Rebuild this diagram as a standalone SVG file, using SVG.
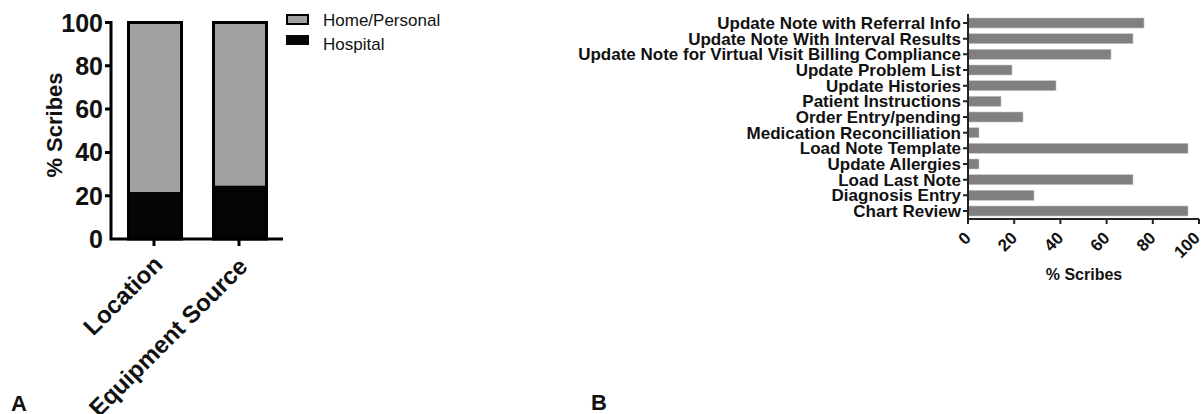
<svg xmlns="http://www.w3.org/2000/svg" width="1204" height="414" viewBox="0 0 1204 414">
<style>
.b{font-family:"Liberation Sans",Arial,sans-serif;font-weight:bold;fill:#111}
.r{font-family:"Liberation Sans",Arial,sans-serif;fill:#111}
.ya{font-size:25px;text-anchor:end}
.xa{font-size:24px;text-anchor:end}
.lb{font-size:17px;text-anchor:end}
.xb{font-size:17px;text-anchor:end}
.ax{stroke:#000;stroke-width:3;fill:none}
.axb{stroke:#222;stroke-width:2;fill:none}
.bar{fill:#808080;stroke:#c4c4c4;stroke-width:0.6}
</style>
<rect width="1204" height="414" fill="#fff"/>
<g id="panelA">
  <g id="barsA">
    <rect x="128.5" y="22.5" width="53" height="216.5" fill="#a1a1a4"/>
    <rect x="128.5" y="192" width="53" height="47" fill="#050505"/>
    <rect x="128.5" y="22.5" width="53" height="216.5" fill="none" stroke="#000" stroke-width="3"/>
    <rect x="213.5" y="22.5" width="53" height="216.5" fill="#a1a1a4"/>
    <rect x="213.5" y="185.7" width="53" height="53.3" fill="#050505"/>
    <rect x="213.5" y="22.5" width="53" height="216.5" fill="none" stroke="#000" stroke-width="3"/>
  </g>
  <g id="axesA">
    <path class="ax" d="M111,21 V239 H283 M105,22.5 H111 M105,65.8 H111 M105,109.1 H111 M105,152.4 H111 M105,195.7 H111 M154,239 V246 M239,239 V246"/>
    <text class="b ya" x="103" y="31.5">100</text>
    <text class="b ya" x="103" y="74.8">80</text>
    <text class="b ya" x="103" y="118.1">60</text>
    <text class="b ya" x="103" y="161.4">40</text>
    <text class="b ya" x="103" y="204.7">20</text>
    <text class="b ya" x="103" y="248">0</text>
    <text class="b" font-size="22" text-anchor="middle" transform="translate(62,125) rotate(-90)">% Scribes</text>
    <text class="b xa" transform="translate(164,266) rotate(-45)">Location</text>
    <text class="b xa" transform="translate(249,268) rotate(-45)">Equipment Source</text>
  </g>
  <g id="legendA">
    <rect x="287" y="15" width="21" height="9" fill="#a1a1a4" stroke="#000" stroke-width="2"/>
    <rect x="286" y="35" width="23" height="10" fill="#050505"/>
    <text class="r" font-size="17" x="323" y="26">Home/Personal</text>
    <text class="r" font-size="17" x="323" y="49.5">Hospital</text>
  </g>
  <text class="b" font-size="22" x="11" y="411">A</text>
</g>
<g id="panelB">
  <g id="barsB">
    <rect class="bar" x="968" y="18" width="176" height="10"/>
    <rect class="bar" x="968" y="33.7" width="165" height="10"/>
    <rect class="bar" x="968" y="49.3" width="143" height="10"/>
    <rect class="bar" x="968" y="65" width="44" height="10"/>
    <rect class="bar" x="968" y="80.7" width="88" height="10"/>
    <rect class="bar" x="968" y="96.3" width="33" height="10"/>
    <rect class="bar" x="968" y="112" width="55" height="10"/>
    <rect class="bar" x="968" y="127.7" width="11" height="10"/>
    <rect class="bar" x="968" y="143.3" width="220" height="10"/>
    <rect class="bar" x="968" y="159" width="11" height="10"/>
    <rect class="bar" x="968" y="174.7" width="165" height="10"/>
    <rect class="bar" x="968" y="190.3" width="66" height="10"/>
    <rect class="bar" x="968" y="206" width="220" height="10"/>
  </g>
  <g id="axesB">
    <path class="axb" d="M968,14 V219 H1199 M963,23 H968 M963,38.7 H968 M963,54.3 H968 M963,70 H968 M963,85.7 H968 M963,101.3 H968 M963,117 H968 M963,132.7 H968 M963,148.3 H968 M963,164 H968 M963,179.7 H968 M963,195.3 H968 M963,211 H968 M968,219 V224 M1014.2,219 V224 M1060.4,219 V224 M1106.6,219 V224 M1152.8,219 V224 M1199,219 V224"/>
    <text class="b lb" x="961" y="29">Update Note with Referral Info</text>
    <text class="b lb" x="961" y="44.7">Update Note With Interval Results</text>
    <text class="b lb" x="961" y="60.3">Update Note for Virtual Visit Billing Compliance</text>
    <text class="b lb" x="961" y="76">Update Problem List</text>
    <text class="b lb" x="961" y="91.7">Update Histories</text>
    <text class="b lb" x="961" y="107.3">Patient Instructions</text>
    <text class="b lb" x="961" y="123">Order Entry/pending</text>
    <text class="b lb" x="961" y="138.7">Medication Reconcilliation</text>
    <text class="b lb" x="961" y="154.3">Load Note Template</text>
    <text class="b lb" x="961" y="170">Update Allergies</text>
    <text class="b lb" x="961" y="185.7">Load Last Note</text>
    <text class="b lb" x="961" y="201.3">Diagnosis Entry</text>
    <text class="b lb" x="961" y="217">Chart Review</text>
    <text class="b xb" transform="translate(972,239) rotate(-45)">0</text>
    <text class="b xb" transform="translate(1018.2,239) rotate(-45)">20</text>
    <text class="b xb" transform="translate(1064.4,239) rotate(-45)">40</text>
    <text class="b xb" transform="translate(1110.6,239) rotate(-45)">60</text>
    <text class="b xb" transform="translate(1156.8,239) rotate(-45)">80</text>
    <text class="b xb" transform="translate(1201,239) rotate(-45)">100</text>
    <text class="b" font-size="16" text-anchor="middle" x="1084" y="280">% Scribes</text>
  </g>
  <text class="b" font-size="22" x="591" y="410">B</text>
</g>
</svg>
